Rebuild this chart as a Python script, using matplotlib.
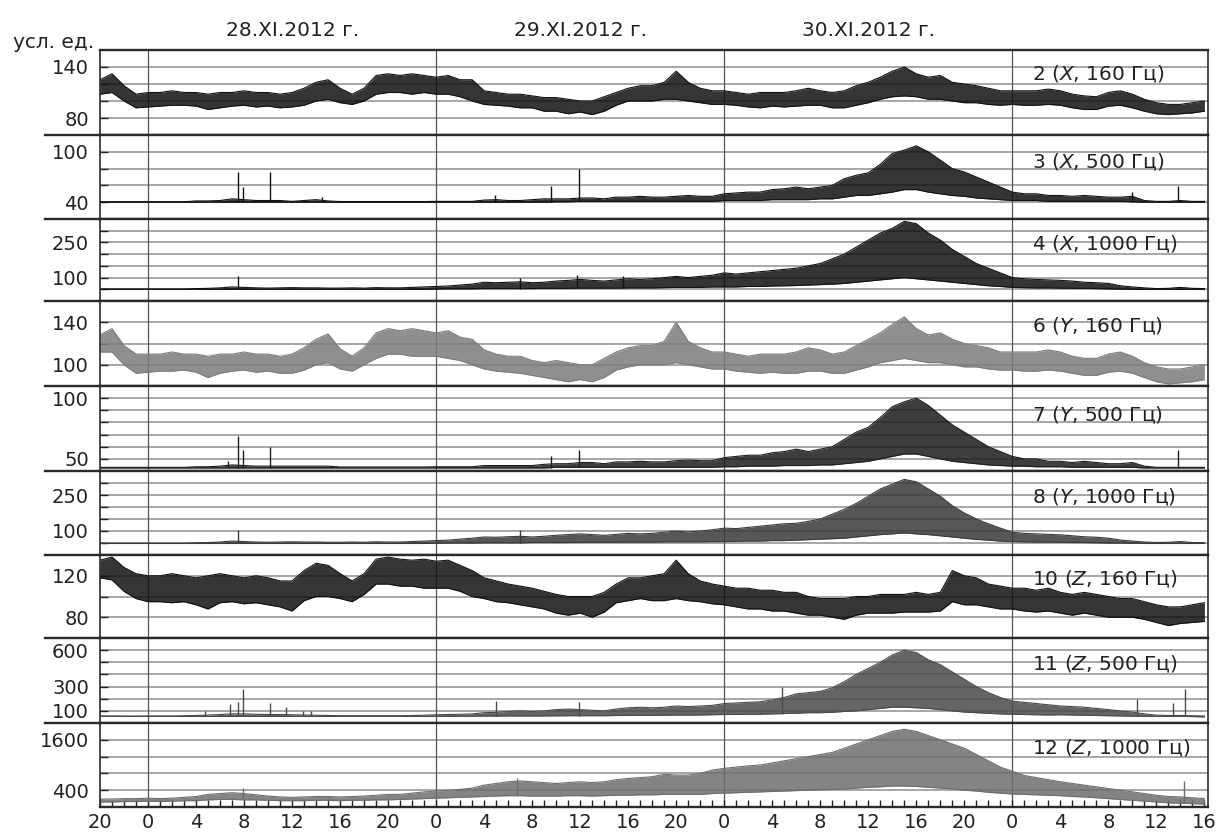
import numpy as np
import matplotlib
matplotlib.use("Agg")
import matplotlib.pyplot as plt
from matplotlib.lines import Line2D
from matplotlib.transforms import blended_transform_factory

# hours counted from 20:00 27.XI.2012 up to 16:00 1.XII.2012
hours = np.arange(93)

# --- 2 (X, 160 Hz): hourly low / high of the trace
x160_lo = [108, 110, 100, 92, 93, 94, 95, 95, 94, 90, 92, 94, 95, 93, 94, 92, 93, 95, 100, 102,
           98, 96, 100, 108, 110, 110, 108, 110, 108, 108, 105, 100, 96, 95, 94, 92, 92, 88, 88, 85,
           87, 84, 88, 95, 100, 100, 100, 102, 102, 100, 98, 96, 96, 95, 93, 92, 94, 93, 94, 95,
           95, 92, 92, 95, 98, 102, 105, 106, 105, 102, 102, 100, 98, 98, 96, 95, 96, 95, 95, 96,
           95, 92, 90, 90, 94, 95, 92, 88, 85, 84, 85, 86, 88]
x160_hi = [125, 132, 118, 108, 110, 110, 112, 110, 110, 108, 110, 110, 112, 110, 110, 108, 110, 115, 122, 125,
           115, 108, 115, 130, 132, 130, 132, 130, 128, 130, 125, 125, 112, 110, 108, 108, 106, 104, 104, 102,
           100, 100, 105, 110, 115, 118, 118, 122, 135, 122, 115, 112, 112, 110, 108, 110, 110, 110, 112, 115,
           112, 110, 112, 118, 122, 128, 135, 140, 132, 128, 130, 122, 120, 118, 115, 112, 112, 112, 112, 114,
           112, 108, 106, 105, 110, 112, 108, 102, 98, 96, 96, 98, 100]

# --- 3 (X, 500 Hz)
x500_lo = [40] * 38 + [40.5, 40.5] + [41] * 12 + [42, 42, 42, 42, 43, 43, 43, 43,
           44, 44, 46, 48, 48, 50, 52, 55, 55, 52, 50, 48, 47, 45, 44, 43, 42, 42, 42, 41,
           41, 41, 41, 41, 41, 41, 40.5, 40, 40, 40, 40, 40, 40]
x500_hi = [40.5, 40.5, 40.5, 40.5, 40.5, 40.5, 40.5, 40.5, 41.5, 41.5, 42, 44, 43, 42, 42, 42, 41, 42, 43, 41.5,
           40.8, 40.8, 40.8, 40.8, 40.8, 40.8, 40.8, 40.8, 41, 41, 41, 41, 42.5, 43, 42, 42, 43, 44, 44, 44,
           45, 45, 44, 46, 46, 47, 46, 46, 47, 48, 47, 47, 50, 51, 52, 52, 55, 56, 58, 56,
           58, 60, 68, 72, 75, 85, 98, 102, 107, 100, 90, 80, 76, 70, 64, 58, 52, 50, 50, 48,
           48, 47, 48, 47, 46, 46, 47, 42, 41, 41, 42, 41, 41]
x500_spk_t = [11.5, 11.9, 14.2, 18.5, 32.9, 37.6, 39.9, 86.0, 89.8]
x500_spk_v = [76, 58, 76, 46, 48, 59, 79, 52, 59]

# --- 4 (X, 1000 Hz)
x1000_lo = [50] * 28 + [51, 52, 52, 52, 53, 53, 53, 53, 53, 54, 54, 54,
            55, 55, 55, 55, 56, 56, 56, 57, 58, 58, 58, 60, 60, 60, 62, 62, 64, 65, 66, 68,
            70, 72, 75, 80, 85, 90, 95, 100, 95, 90, 85, 80, 75, 70, 65, 62, 58, 57, 56, 56,
            55, 54, 54, 53, 52, 51, 50, 50, 50, 50, 50, 50, 50]
x1000_hi = [51, 51, 51, 51, 51, 51, 51, 51, 53, 54, 56, 60, 58, 56, 55, 56, 57, 56, 56, 55,
            55, 56, 55, 57, 56, 56, 58, 60, 62, 64, 68, 72, 80, 78, 80, 82, 78, 80, 85, 88,
            92, 88, 85, 90, 95, 92, 95, 100, 105, 100, 105, 110, 120, 115, 120, 125, 130, 135, 140, 150,
            160, 180, 200, 230, 260, 290, 310, 340, 330, 290, 260, 220, 190, 160, 140, 120, 100, 95, 92, 90,
            88, 85, 80, 78, 75, 65, 60, 56, 53, 54, 58, 54, 53]
x1000_spk_t = [11.5, 35.0, 39.7, 43.6]
x1000_spk_v = [105, 100, 110, 105]

# --- 6 (Y, 160 Hz)
y160_lo = [112, 112, 100, 92, 93, 94, 94, 95, 93, 88, 92, 94, 95, 93, 94, 92, 92, 95, 100, 102,
           96, 94, 100, 106, 110, 110, 108, 108, 108, 106, 104, 100, 96, 94, 93, 92, 90, 88, 86, 84,
           86, 84, 88, 95, 98, 100, 100, 100, 102, 100, 98, 96, 96, 94, 93, 92, 93, 92, 92, 94,
           94, 92, 92, 95, 98, 102, 104, 106, 104, 102, 102, 100, 98, 98, 96, 95, 95, 94, 94, 95,
           94, 92, 90, 90, 93, 94, 92, 88, 84, 82, 83, 84, 86]
y160_hi = [128, 134, 118, 110, 110, 110, 112, 110, 110, 108, 110, 110, 112, 110, 110, 108, 110, 116, 124, 129,
           115, 108, 116, 130, 134, 132, 134, 132, 130, 132, 126, 124, 114, 110, 108, 108, 104, 102, 104, 102,
           100, 100, 106, 112, 116, 118, 118, 122, 140, 122, 116, 112, 112, 110, 108, 110, 110, 110, 112, 116,
           114, 110, 112, 118, 124, 130, 138, 145, 134, 128, 130, 124, 120, 118, 116, 112, 112, 112, 112, 114,
           112, 108, 106, 106, 110, 112, 108, 102, 98, 96, 96, 98, 100]

# --- 7 (Y, 500 Hz)
y500_lo = [42.5] * 38 + [43] * 14 + [43.5, 43.5, 44, 44, 44, 44.5, 44.5, 44.5,
           45, 45, 46, 47, 48, 50, 52, 54, 54, 52, 50, 48, 47, 46, 45, 44.5, 44, 44, 43.5, 43.5,
           43.5, 43, 43, 43, 43, 43, 43, 42.5, 42.5, 42.5, 42.5, 42.5, 42.5]
y500_hi = [43, 43, 43, 43, 43, 43, 43, 43, 43.5, 43.5, 44, 45, 44.5, 44, 44, 44, 44, 44, 44, 44,
           43.3, 43.3, 43.3, 43.3, 43.3, 43.3, 43.3, 43.3, 43.5, 43.5, 43.5, 43.5, 44.5, 44.5, 44.5, 44.5, 44.5, 45.5, 46, 46,
           47, 47, 46, 47.5, 47.5, 48, 47.5, 47.5, 48.5, 49, 48.5, 48.5, 51, 52, 53, 53, 55, 56, 58, 56,
           58, 60, 66, 72, 76, 84, 93, 97, 100, 94, 86, 78, 72, 66, 60, 56, 52, 50, 50, 48,
           48, 47, 48, 47, 46, 46, 47, 44, 43, 43, 43, 43, 43]
y500_spk_t = [10.7, 11.5, 11.9, 14.2, 37.6, 39.9, 89.8]
y500_spk_v = [48, 69, 57, 60, 52, 57, 57]

# --- 8 (Y, 1000 Hz)
y1000_lo = [48] * 28 + [49, 50, 50, 50, 51, 51, 51, 51, 52, 52, 52, 52,
            53, 53, 53, 53, 54, 54, 54, 55, 55, 55, 55, 56, 56, 57, 58, 58, 60, 60, 62, 64,
            66, 68, 70, 75, 80, 85, 88, 92, 88, 85, 80, 75, 70, 65, 62, 58, 56, 55, 54, 54,
            53, 52, 52, 51, 50, 50, 49, 48, 48, 48, 48, 48, 48]
y1000_hi = [49, 49, 49, 49, 49, 49, 49, 49, 51, 52, 54, 58, 56, 54, 53, 54, 55, 54, 54, 53,
            53, 54, 53, 55, 54, 54, 56, 58, 60, 62, 66, 70, 75, 74, 76, 78, 75, 78, 82, 85,
            88, 85, 82, 86, 90, 88, 90, 95, 100, 96, 100, 105, 112, 110, 115, 120, 125, 130, 132, 140,
            150, 170, 190, 215, 245, 275, 295, 315, 305, 275, 245, 205, 175, 150, 130, 112, 95, 90, 88, 86,
            84, 80, 76, 74, 70, 62, 58, 54, 52, 53, 56, 52, 51]
y1000_spk_t = [11.5, 35.0]
y1000_spk_v = [104, 105]

# --- 10 (Z, 160 Hz)
z160_lo = [118, 116, 105, 98, 95, 95, 94, 95, 92, 88, 94, 95, 93, 94, 92, 90, 86, 96, 100, 100,
           98, 95, 102, 112, 112, 110, 110, 108, 108, 108, 105, 100, 98, 95, 94, 92, 90, 88, 84, 82,
           84, 80, 85, 94, 96, 98, 96, 96, 98, 96, 95, 93, 92, 90, 88, 88, 86, 86, 84, 82,
           82, 80, 78, 82, 84, 84, 84, 85, 85, 85, 86, 95, 92, 92, 90, 88, 88, 86, 85, 86,
           84, 82, 84, 82, 80, 80, 80, 78, 75, 72, 74, 75, 76]
z160_hi = [135, 138, 128, 122, 120, 120, 122, 120, 118, 120, 122, 120, 118, 120, 118, 115, 115, 125, 132, 130,
           122, 115, 122, 136, 138, 136, 135, 136, 134, 135, 130, 125, 118, 115, 112, 110, 108, 105, 102, 100,
           100, 100, 104, 112, 118, 118, 120, 122, 135, 122, 115, 112, 110, 108, 108, 106, 106, 104, 104, 100,
           98, 98, 98, 100, 100, 102, 102, 102, 104, 102, 104, 125, 120, 118, 112, 110, 108, 108, 106, 108,
           104, 102, 104, 102, 100, 98, 98, 95, 92, 90, 90, 92, 94]

# --- 11 (Z, 500 Hz)
z500_lo = [55, 55] + [54] * 26 + [55, 55, 56, 56, 57, 57, 58, 58, 58, 58, 59, 60,
           60, 60, 60, 62, 62, 63, 63, 64, 65, 65, 66, 68, 70, 70, 72, 72, 75, 78, 80, 85,
           85, 88, 95, 100, 110, 120, 130, 130, 125, 120, 110, 100, 90, 85, 80, 75, 72, 70, 68, 66,
           68, 66, 64, 62, 60, 58, 56, 55, 54, 54, 54, 53, 50]
z500_hi = [58, 58, 57, 57, 58, 58, 58, 60, 62, 65, 70, 75, 75, 72, 70, 70, 68, 66, 64, 62,
           60, 60, 60, 60, 60, 60, 62, 64, 68, 70, 72, 75, 85, 88, 95, 100, 95, 100, 110, 115,
           110, 105, 100, 115, 125, 130, 125, 130, 140, 135, 140, 145, 160, 165, 170, 175, 190, 210, 240, 250,
           260, 290, 340, 400, 450, 500, 560, 600, 580, 520, 480, 420, 360, 300, 250, 210, 180, 170, 160, 150,
           140, 135, 130, 120, 110, 100, 90, 75, 65, 62, 62, 60, 58]
z500_spk_t = [8.75, 10.8, 11.5, 11.9, 14.2, 15.5, 16.9, 17.6, 33.0, 39.9, 56.8, 86.4, 89.4, 90.4]
z500_spk_v = [100, 158, 175, 283, 167, 133, 95, 95, 180, 170, 300, 200, 167, 283]

# --- 12 (Z, 1000 Hz)
z1000_lo = [120, 120, 130, 130, 140, 130, 140, 150, 150, 170, 180, 180, 170, 170, 160, 150, 150, 150, 160, 160,
            150, 160, 160, 170, 170, 180, 190, 200, 210, 220, 230, 240, 250, 260, 270, 270, 260, 260, 260, 270,
            270, 260, 270, 280, 280, 290, 290, 300, 300, 300, 300, 320, 330, 340, 350, 360, 370, 380, 390, 400,
            410, 420, 430, 450, 470, 480, 500, 500, 490, 470, 450, 430, 400, 380, 350, 330, 310, 300, 290, 280,
            270, 250, 240, 220, 200, 180, 160, 140, 120, 100, 90, 80, 70]
z1000_hi = [190, 190, 200, 200, 210, 200, 210, 230, 250, 300, 320, 340, 320, 290, 260, 240, 230, 240, 250, 250,
            240, 250, 260, 280, 300, 300, 330, 360, 380, 400, 420, 450, 520, 560, 600, 620, 600, 580, 560, 580,
            600, 580, 600, 650, 680, 700, 720, 780, 760, 760, 800, 880, 920, 950, 980, 1000, 1050, 1100, 1150, 1200,
            1250, 1300, 1400, 1500, 1600, 1700, 1800, 1850, 1800, 1700, 1600, 1500, 1400, 1250, 1100, 950, 850, 750, 700, 650,
            600, 560, 520, 480, 440, 400, 360, 320, 280, 250, 240, 220, 200]
z1000_spk_t = [11.9, 34.7, 90.3]
z1000_spk_v = [450, 690, 620]

# (label, lo, hi, spikes, ylim, grid step, labelled ticks, colour, label y)
panels = [
    (("2", "X", "160"), x160_lo, x160_hi, None, (60, 160), 20, [140, 80], "#111111", 0.71),
    (("3", "X", "500"), x500_lo, x500_hi, (x500_spk_t, x500_spk_v), (20, 120), 20, [100, 40], "#111111", 0.67),
    (("4", "X", "1000"), x1000_lo, x1000_hi, (x1000_spk_t, x1000_spk_v), (0, 350), 50, [250, 100], "#111111", 0.69),
    (("6", "Y", "160"), y160_lo, y160_hi, None, (80, 160), 20, [140, 100], "#7c7c7c", 0.70),
    (("7", "Y", "500"), y500_lo, y500_hi, (y500_spk_t, y500_spk_v), (40, 110), 10, [100, 50], "#1c1c1c", 0.65),
    (("8", "Y", "1000"), y1000_lo, y1000_hi, (y1000_spk_t, y1000_spk_v), (0, 350), 50, [250, 100], "#3a3a3a", 0.69),
    (("10", "Z", "160"), z160_lo, z160_hi, None, (60, 140), 20, [120, 80], "#111111", 0.70),
    (("11", "Z", "500"), z500_lo, z500_hi, (z500_spk_t, z500_spk_v), (0, 700), 100, [600, 300, 100], "#4a4a4a", 0.69),
    (("12", "Z", "1000"), z1000_lo, z1000_hi, (z1000_spk_t, z1000_spk_v), (0, 2000), 400, [1600, 400], "#6e6e6e", 0.70),
]

W, H = 1221, 832
edges = [50, 135, 219, 301, 386, 471, 555, 638, 723, 807]   # panel borders, px from top
x0, x1 = 100, 1208
day_starts = [4, 28, 52, 76]

plt.rcParams["font.family"] = ["DejaVu Sans"]
plt.rcParams["mathtext.fontset"] = "dejavusans"
fig = plt.figure(figsize=(W / 100, H / 100), dpi=100)

axes = []
for i, (lab, lo, hi, spk, ylim, step, shown, col, ly) in enumerate(panels):
    top, bot = edges[i], edges[i + 1]
    ax = fig.add_axes([x0 / W, 1 - bot / H, (x1 - x0) / W, (bot - top) / H])
    ax.set_xlim(0, 92.3)
    ax.set_ylim(*ylim)
    ticks = np.arange(ylim[0] + step, ylim[1], step)
    for v in ticks:
        ax.axhline(v, color="#8e8e8e", lw=1.1, zorder=0)
    for d in day_starts:
        ax.axvline(d, color="#555555", lw=0.9, zorder=1)
    # envelope of the record (hourly extremes)
    ax.fill_between(hours, lo, hi, color=col, alpha=0.85, lw=0, zorder=2)
    ax.plot(hours, lo, color=col, lw=0.8, zorder=2)
    ax.plot(hours, hi, color=col, lw=0.8, zorder=2)
    if spk is not None:
        ax.vlines(spk[0], np.interp(spk[0], hours, lo), spk[1], color=col, lw=1.0, zorder=2)
    ax.set_yticks(ticks)
    ax.set_yticklabels([str(int(v)) if v in shown else "" for v in ticks])
    ax.tick_params(axis="y", direction="in", length=6, width=1.0, pad=8, labelsize=14,
                   colors="#222222", labelcolor="#222222")
    ax.tick_params(axis="x", bottom=False, labelbottom=False)
    for s in ("top", "bottom"):
        ax.spines[s].set_linewidth(1.7)
        ax.spines[s].set_color("#2a2a2a")
    for s in ("left", "right"):
        ax.spines[s].set_linewidth(1.2)
        ax.spines[s].set_color("#2a2a2a")
    num, comp, freq = lab
    ax.text(0.841, ly, f"{num} (${comp}$, {freq} Гц)", transform=ax.transAxes,
            ha="left", va="center", fontsize=14.5, color="#222222", zorder=3)
    axes.append(ax)

# bottom time axis: hourly ticks, labels every 4 h
axb = axes[-1]
axb.set_xticks(hours, minor=True)
axb.set_xticks(hours[::4])
axb.set_xticklabels([str((20 + h) % 24) for h in hours[::4]])
axb.tick_params(axis="x", which="both", bottom=True, labelbottom=True, direction="in",
                length=5, width=1.0, colors="#222222", labelsize=14, pad=4)

# separators reaching into the label column
for y in edges[1:-1]:
    fig.add_artist(Line2D([45 / W, x0 / W], [1 - y / H, 1 - y / H], color="#2a2a2a", lw=1.7))

# header
tr = blended_transform_factory(axes[0].transData, fig.transFigure)
for h, txt in [(16, "28.XI.2012 г."), (40, "29.XI.2012 г."), (64, "30.XI.2012 г.")]:
    axes[0].text(h, 1 - 30 / H, txt, transform=tr, ha="center", va="center",
                 fontsize=14.5, color="#222222")
fig.text(13 / W, 1 - 43 / H, "усл. ед.", ha="left", va="center", fontsize=14.5, color="#222222")

fig.savefig("out.png", dpi=100)
